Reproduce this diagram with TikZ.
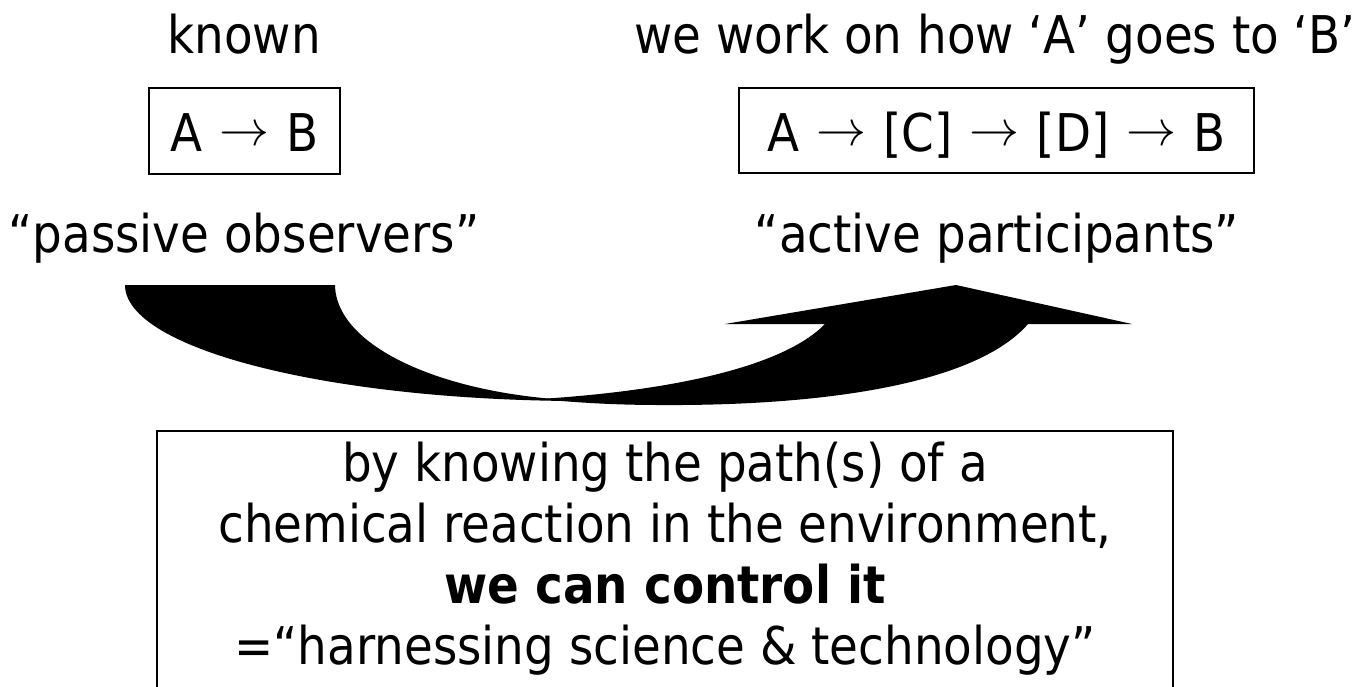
\documentclass[tikz,border=0pt]{standalone}
\usepackage{graphicx}
\usepackage{fontspec}
\setmainfont{DejaVu Sans}[FakeStretch=0.9]
\newcommand{\rarr}{\hspace{17pt}\raisebox{6pt}{\scalebox{5}{\fontsize{10}{12}\selectfont$\rightarrow$}}\hspace{17pt}}
\begin{document}
\begin{tikzpicture}[x=1pt,y=-1pt,
  txt/.style={font=\fontsize{52}{58}\selectfont, inner sep=0pt, anchor=base},
  boxed/.style={draw, line width=1.5pt, inner sep=0pt}]
\useasboundingbox (0,0) rectangle (1362,686);
% top labels
\node[txt] (known) at (244,53) {known};
\node[txt] (work) at (995,53) {we work on how ‘A’ goes to ‘B’};
% boxes with reactions
\node[boxed, minimum width=191pt, minimum height=86pt] (lbox) at (244.5,131) {};
\node[txt] (lreac) at (244.5,151) {A\rarr B};
\node[boxed, minimum width=515pt, minimum height=85pt] (rbox) at (996.5,130.5) {};
\node[txt] (rreac) at (996.5,151) {A\rarr[C]\rarr[D]\rarr B};
% role labels
\node[txt] (passive) at (244,252) {“passive observers”};
\node[txt] (active) at (997,252) {“active participants”};
% curved arrow
\fill[black] (125,285) -- (335,285)
  .. controls (336,350) and (455,400) .. (600,401)
  .. controls (337,403) and (125,350) .. (125,285) -- cycle;
\fill[black] (540,399)
  .. controls (680,390) and (785,365) .. (825,324)
  -- (725,324) -- (956,285) -- (1132,324) -- (1028,324)
  .. controls (975,385) and (820,406) .. (660,405)
  .. controls (610,405) and (570,402) .. (540,399) -- cycle;
% bottom box
\node[boxed, minimum width=1016pt, minimum height=290pt, anchor=north] (bbox) at (665,430) {};
\node[txt] (l1) at (665,481) {by knowing the path(s) of a};
\node[txt] (l2) at (665,542) {chemical reaction in the environment,};
\node[txt] (l3) at (665,603) {\bfseries we can control it};
\node[txt] (l4) at (665,664) {=“harnessing science \& technology”};
\end{tikzpicture}
\end{document}
